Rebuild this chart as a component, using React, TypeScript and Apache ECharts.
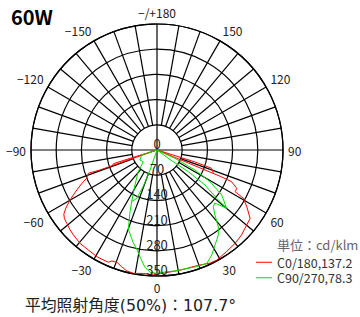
import React, { useEffect, useRef } from "react";
import * as echarts from "echarts";

// Angles in degrees (0 = down, positive = right side), values in cd/klm
const c0Main: [number, number][] = [
  [-70.5, 0], [-70.7, 168], [-71.3, 201], [-68.1, 211], [-66.7, 223], [-63.5, 249],
  [-60.1, 279], [-57.5, 300], [-55.5, 314], [-53.5, 320], [-50.9, 323], [-47.4, 328],
  [-44.6, 331], [-39.5, 336], [-34.5, 337], [-29.5, 340], [-27.8, 340], [-23.5, 340],
  [-22.2, 333], [-19.7, 331], [-16.8, 339], [-14.1, 346], [-10.9, 349], [-6.3, 345],
  [-1.7, 347], [3.7, 342], [11.6, 340], [16.5, 339], [20.5, 341], [25.1, 347],
  [28.5, 348], [34.4, 342], [39.9, 338], [44.9, 333], [48.3, 327], [53.7, 321],
  [57.7, 295], [60.8, 275], [61.9, 246], [64.3, 246], [67.0, 225], [67.4, 190],
  [67.4, 94], [67.4, 0],
];
const c0SpurLeft: [number, number][] = [[-72.8, 0], [-72.8, 60], [-72.6, 127], [-70.6, 132]];
const c0SpurRight: [number, number][] = [[72.5, 0], [72.5, 110], [71.5, 160], [67.5, 170]];

const c90Main: [number, number][] = [
  [-72, 0], [-71.9, 45], [-59.5, 55], [-49.5, 50], [-40.8, 80], [-32.2, 115],
  [-26.1, 160], [-23.6, 187], [-19.9, 234], [-14.5, 265], [-11, 285], [-8.5, 305],
  [-5.8, 328], [-3.3, 340], [0, 343], [4.6, 339], [8.5, 340], [12.4, 339],
  [14.8, 340], [18.8, 342], [23.7, 344], [27.5, 329], [31.4, 309], [33.6, 300],
  [35.8, 291], [38.6, 273], [41.7, 242], [44.8, 222], [47.4, 218], [50.1, 252],
  [51, 213], [53.9, 165], [55.3, 106], [53.7, 39], [54, 0],
];
const c90SpurLeft: [number, number][] = [[-19, 0], [-19.3, 60], [-20.7, 108], [-22.8, 146], [-26.1, 160]];
const c90SpurRight: [number, number][] = [[67, 0], [65.2, 55], [62.2, 119], [59.1, 172], [55.2, 219], [50.1, 252]];

const radiusTicks = [0, 70, 140, 210, 280, 350];
const seriesNames = ["C0/180,137.2", "C90/270,78.3"];
const unitLabel = "単位：cd/klm";
const titleText = "60W";
const beamText = "平均照射角度(50%)：107.7°";

const FONT = '"Noto Sans CJK JP", "Noto Sans", sans-serif';
const WIDE_FONT = '"DejaVu Sans", "Noto Sans CJK JP", sans-serif';
const RED = "#ff0000";
const GREEN = "#00dd00";
const GRID_W = 1.2;

const toAxisAngle = (a: number) => (a < 0 ? a + 360 : a);
const toPolar = (pts: [number, number][]) => pts.map(([a, v]) => [v, toAxisAngle(a)]);

const angleLabel = (v: number) => {
  if (v % 30 !== 0 || v >= 360) return "";
  if (v === 180) return "\u2212/+180";
  if (v > 180) return "\u2212" + (360 - v);
  return String(v);
};

export default function App() {
  const ref = useRef<HTMLDivElement>(null);
  useEffect(() => {
    if (!ref.current) return;
    const chart = echarts.init(ref.current, undefined, { renderer: "svg" });
    const spokes: number[][] = [];
    for (let a = 0; a < 360; a += 10) spokes.push([a % 90 === 0 ? 0 : 70, a]);

    const curve = (name: string, data: [number, number][], color: string) => ({
      type: "line",
      name,
      coordinateSystem: "polar",
      data: toPolar(data),
      symbol: "none",
      smooth: false,
      z: 5,
      lineStyle: { color, width: 1 },
      itemStyle: { color },
    });

    chart.setOption({
      animation: false,
      textStyle: { fontFamily: FONT },
      polar: { center: [157, 150], radius: 126 },
      angleAxis: {
        type: "value",
        min: 0,
        max: 360,
        interval: 10,
        startAngle: 270,
        clockwise: false,
        axisLine: { show: true, lineStyle: { color: "#000", width: GRID_W } },
        axisTick: { show: false },
        splitLine: { show: false },
        axisLabel: {
          margin: 5,
          fontSize: 12,
          color: "#222",
          fontFamily: FONT,
          formatter: (v: number) => angleLabel(v),
        },
      },
      radiusAxis: {
        type: "value",
        min: 0,
        max: 350,
        interval: 70,
        axisLine: { show: false },
        axisTick: { show: false },
        axisLabel: { show: false },
        splitLine: { show: true, lineStyle: { color: "#000", width: GRID_W } },
      },
      legend: {
        data: seriesNames,
        orient: "vertical",
        left: 256,
        top: 256,
        padding: 0,
        itemGap: 3,
        itemWidth: 16,
        itemHeight: 1,
        icon: "rect",
        textStyle: { fontSize: 12.5, color: "#333", fontFamily: FONT, lineHeight: 12 },
      },
      graphic: [
        {
          type: "text",
          left: 11,
          top: 6,
          style: { text: titleText, font: `bold 20px ${FONT}`, fill: "#000" },
        },
        {
          type: "text",
          left: 277,
          top: 238,
          style: { text: unitLabel, font: `13px ${FONT}`, fill: "#666" },
        },
        {
          type: "text",
          left: 25,
          top: 298,
          style: { text: beamText, font: `15.8px ${WIDE_FONT}`, fill: "#222" },
        },
      ],
      series: [
        {
          type: "custom",
          name: "grid",
          coordinateSystem: "polar",
          silent: true,
          z: 1,
          data: spokes,
          renderItem: (_p: any, api: any) => {
            const r0 = api.value(0);
            const a = api.value(1);
            const p0 = api.coord([r0, a]);
            const p1 = api.coord([350, a]);
            return {
              type: "line",
              shape: { x1: p0[0], y1: p0[1], x2: p1[0], y2: p1[1] },
              style: { stroke: "#000", lineWidth: GRID_W },
            };
          },
        },
        curve(seriesNames[0], c0Main, RED),
        curve(seriesNames[0], c0SpurLeft, RED),
        curve(seriesNames[0], c0SpurRight, RED),
        curve(seriesNames[1], c90Main, GREEN),
        curve(seriesNames[1], c90SpurLeft, GREEN),
        curve(seriesNames[1], c90SpurRight, GREEN),
        {
          type: "scatter",
          name: "radius labels",
          coordinateSystem: "polar",
          symbolSize: 1,
          itemStyle: { color: "rgba(0,0,0,0)" },
          z: 6,
          silent: true,
          data: radiusTicks.map((r) => [r, 0]),
          label: {
            show: true,
            position: "top",
            distance: 0,
            fontSize: 13,
            lineHeight: 12,
            color: "#222",
            opacity: 1,
            fontFamily: FONT,
            formatter: (p: any) => String(p.value[0]),
          },
        },
      ],
    });
    return () => chart.dispose();
  }, []);
  return (
    <div
      ref={ref}
      style={{ position: "fixed", left: 0, top: 0, width: 360, height: 317, background: "#fff" }}
    />
  );
}
